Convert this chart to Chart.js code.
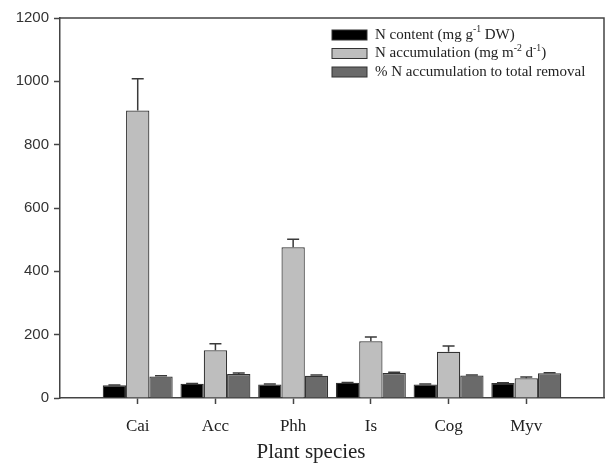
<!DOCTYPE html>
<html>
<head>
<meta charset="utf-8">
<script src="https://cdn.jsdelivr.net/npm/chart.js@4.4.1/dist/chart.umd.min.js"></script>
<style>
  html, body { margin: 0; padding: 0; background: #fff; }
  #wrap { width: 607px; height: 464px; position: relative; }
</style>
</head>
<body>
<div id="wrap"><canvas id="chart"></canvas></div>
<script>
// values
const species = ['Cai', 'Acc', 'Phh', 'Is', 'Cog', 'Myv'];
const nContent = [40, 45, 43, 48, 43, 47];
const nContentErr = [1, 1, 1, 1, 1, 1];
const nAccum = [908, 151, 476, 179, 146, 62];
const nAccumErr = [100, 20, 25, 14, 18, 4];
const pctRemoval = [68, 76, 70, 79, 71, 78];
const pctRemovalErr = [2, 3, 3, 2, 2, 2];
const yTicks = [0, 200, 400, 600, 800, 1000, 1200];
const xTitle = 'Plant species';

const seriesLabels = [
    'N content (mg g^{-1} DW)',
    'N accumulation (mg m^{-2} d^{-1})',
    '% N accumulation to total removal'
];

// empty slots at both ends so the groups sit like the original axis
const pad = arr => [null, ...arr, null];
const labels = ['', ...species, ''];

const serif = '"Liberation Serif", "Times New Roman", serif';
const sans = '"Liberation Sans", Arial, sans-serif';

// draw text with ^{..} superscripts
function richText(ctx, str, x, y, size) {
    const parts = str.split(/\^\{([^}]*)\}/);
    let cx = x;
    parts.forEach((p, i) => {
        if (!p) return;
        if (i % 2 === 1) {
            ctx.font = (size * 0.65) + 'px ' + serif;
            ctx.fillText(p, cx, y - size * 0.35);
        } else {
            ctx.font = size + 'px ' + serif;
            ctx.fillText(p, cx, y);
        }
        cx += ctx.measureText(p).width;
    });
}

const errorBars = {
    id: 'errorBars',
    afterDatasetsDraw(chart) {
        const ctx = chart.ctx;
        const yScale = chart.scales.y;
        ctx.save();
        ctx.strokeStyle = '#3a3a3a';
        ctx.lineWidth = 1.5;
        chart.data.datasets.forEach((ds, di) => {
            const meta = chart.getDatasetMeta(di);
            meta.data.forEach((bar, i) => {
                const v = ds.data[i];
                if (v == null) return;
                const e = ds.errors[i];
                const yTop = yScale.getPixelForValue(v + e);
                ctx.beginPath();
                ctx.moveTo(bar.x, bar.y);
                ctx.lineTo(bar.x, yTop);
                ctx.moveTo(bar.x - 6, yTop);
                ctx.lineTo(bar.x + 6, yTop);
                ctx.stroke();
            });
        });
        ctx.restore();
    }
};

const frameAndLegend = {
    id: 'frameAndLegend',
    afterDraw(chart) {
        const ctx = chart.ctx;
        const a = chart.chartArea;
        ctx.save();
        // top and right frame lines
        ctx.strokeStyle = '#444';
        ctx.lineWidth = 1.5;
        ctx.beginPath();
        ctx.moveTo(a.left, a.top);
        ctx.lineTo(a.right, a.top);
        ctx.lineTo(a.right, a.bottom);
        ctx.stroke();

        // x axis title, sits a bit left of centre in the original
        ctx.fillStyle = '#222';
        ctx.font = '21px ' + serif;
        ctx.textAlign = 'center';
        ctx.textBaseline = 'alphabetic';
        ctx.fillText(xTitle, 311, 458);

        // legend in the upper right
        ctx.textAlign = 'left';
        ctx.textBaseline = 'middle';
        const bx = 332, by = 35, step = 18.5;
        chart.data.datasets.forEach((ds, i) => {
            const y = by + i * step;
            ctx.fillStyle = ds.backgroundColor;
            ctx.fillRect(bx, y - 5, 35, 10);
            ctx.strokeStyle = '#333';
            ctx.lineWidth = 1;
            ctx.strokeRect(bx, y - 5, 35, 10);
            ctx.fillStyle = '#222';
            richText(ctx, seriesLabels[i], 375, y, 15);
        });
        ctx.restore();
    }
};

new Chart(document.getElementById('chart'), {
    type: 'bar',
    data: {
        labels: labels,
        datasets: [
            { label: seriesLabels[0], data: pad(nContent), errors: pad(nContentErr), backgroundColor: '#000000' },
            { label: seriesLabels[1], data: pad(nAccum), errors: pad(nAccumErr), backgroundColor: '#bebebe' },
            { label: seriesLabels[2], data: pad(pctRemoval), errors: pad(pctRemovalErr), backgroundColor: '#6a6a6a' }
        ].map(d => Object.assign(d, {
            borderColor: '#333',
            borderWidth: 1.2,
            categoryPercentage: 0.9,
            barPercentage: 1.0
        }))
    },
    options: {
        animation: false,
        responsive: true,
        maintainAspectRatio: false,
        layout: { padding: { top: 18, right: 3, left: 0, bottom: 0 } },
        plugins: {
            legend: { display: false },
            tooltip: { enabled: false }
        },
        scales: {
            x: {
                offset: false,
                grid: {
                    offset: false,
                    drawOnChartArea: false,
                    drawTicks: true,
                    tickLength: 6,
                    tickWidth: 1.5,
                    tickColor: c => (c.index === 0 || c.index === labels.length - 1) ? 'transparent' : '#444'
                },
                border: { color: '#444', width: 1.5 },
                ticks: {
                    color: '#222',
                    font: { family: serif, size: 17 },
                    padding: 12,
                    autoSkip: false,
                    maxRotation: 0
                },
                title: { display: false },
                afterFit: s => {
                    s.height = 66;
                    s.paddingLeft = 0;
                    s.paddingRight = 0;
                }
            },
            y: {
                min: 0,
                max: 1200,
                afterBuildTicks: s => { s.ticks = yTicks.map(v => ({ value: v })); },
                grid: {
                    drawOnChartArea: false,
                    tickLength: 6,
                    tickWidth: 1.5,
                    tickColor: '#444'
                },
                border: { color: '#444', width: 1.5 },
                ticks: {
                    color: '#333',
                    font: { family: sans, size: 15 },
                    padding: 5,
                    callback: v => String(v)
                },
                afterFit: s => { s.width = 60; }
            }
        }
    },
    plugins: [errorBars, frameAndLegend]
});
</script>
</body>
</html>
